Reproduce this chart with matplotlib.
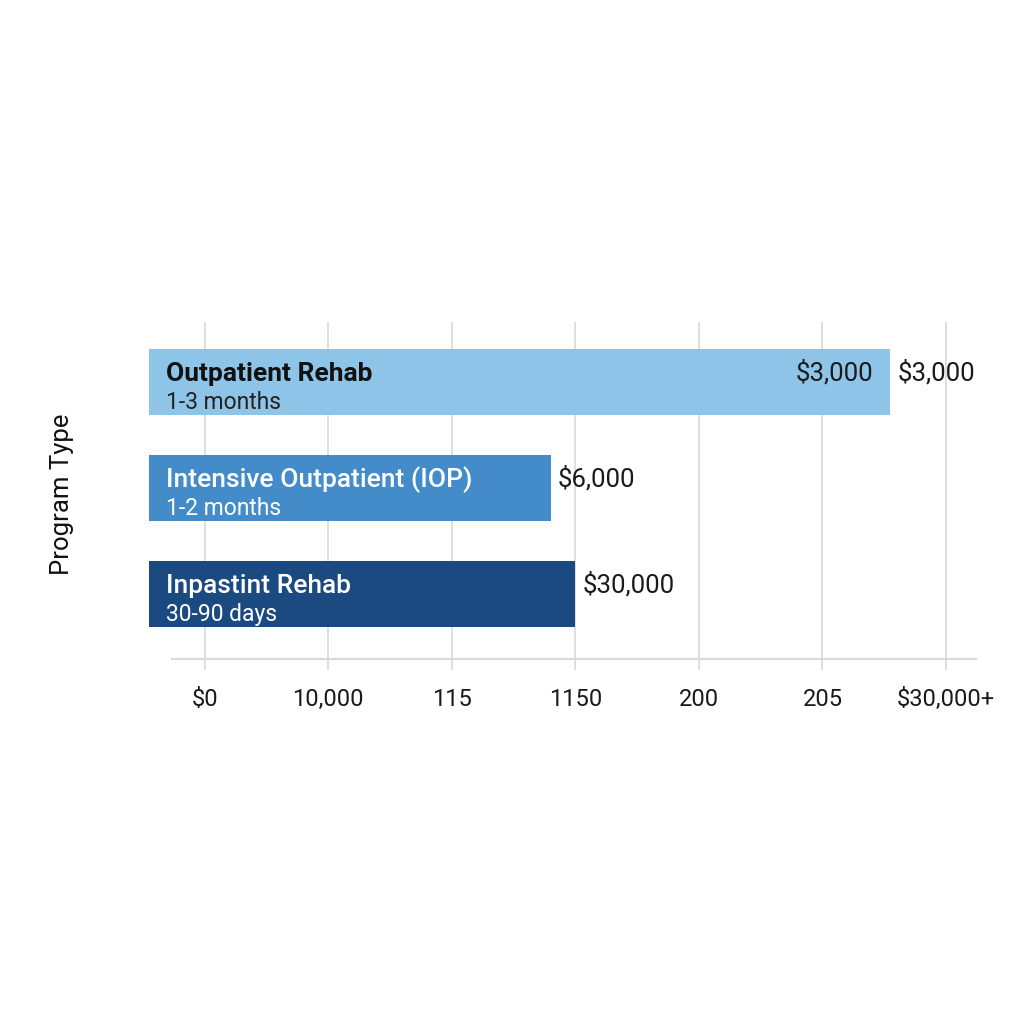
import matplotlib
matplotlib.use('Agg')
import matplotlib.pyplot as plt

plt.rcParams['font.family'] = ['Roboto', 'DejaVu Sans']

programs = ['Outpatient Rehab', 'Intensive Outpatient (IOP)', 'Inpastint Rehab']
durations = ['1-3 months', '1-2 months', '30-90 days']
bar_start = -2250
bar_end = [27750, 14000, 15000]
value_labels = ['$3,000', '$6,000', '$30,000']
tick_values = [0, 5000, 10000, 15000, 20000, 25000, 30000]
tick_labels = ['$0', '10,000', '115', '1150', '200', '205', '$30,000+']

colors = ['#8ec4e7', '#438cc9', '#1a4a80']
name_colors = ['#111111', 'white', 'white']
name_weights = ['bold', 'medium', 'medium']
sub_colors = ['#222222', 'white', 'white']

fig = plt.figure(figsize=(10.24, 10.24), dpi=100)
fig.patch.set_facecolor('white')
ax = fig.add_axes([149 / 1024, 1 - 659 / 1024, (976 - 149) / 1024, 337 / 1024])

px = 5000 / 123.5
ax.set_xlim(bar_start - 5, 30000 + (976 - 946) * px)
ax.set_ylim(2.613, -0.566)

y = list(range(len(programs)))
widths = [e - bar_start for e in bar_end]
ax.barh(y, widths, left=bar_start, height=0.623, color=colors, zorder=3)

for i in y:
    ax.annotate(programs[i], (bar_start, i), xytext=(12, 6), textcoords='offset points',
                ha='left', va='center', fontsize=19, color=name_colors[i],
                fontweight=name_weights[i], zorder=4)
    ax.annotate(durations[i], (bar_start, i), xytext=(12, -14.5), textcoords='offset points',
                ha='left', va='center', fontsize=16.5, color=sub_colors[i], zorder=4)
    ax.annotate(value_labels[i], (bar_end[i], i), xytext=(5, 6.5), textcoords='offset points',
                ha='left', va='center', fontsize=18.5, color='#1a1a1a', zorder=4)

# the outpatient bar also carries its value inside the bar
ax.annotate(value_labels[0], (bar_end[0], 0), xytext=(-12, 6.5), textcoords='offset points',
            ha='right', va='center', fontsize=18.5, color='#1a1a1a', zorder=4)

ax.set_xticks(tick_values)
ax.set_xticklabels(tick_labels, fontsize=17, color='#1a1a1a')
ax.set_yticks([])
ax.grid(axis='x', color='#d9d9d9', linewidth=1.2, zorder=0)
ax.tick_params(axis='x', length=8, width=1.2, color='#d9d9d9', pad=13)

for s in ['top', 'right', 'left']:
    ax.spines[s].set_visible(False)
ax.spines['bottom'].set_color('#d9d9d9')
ax.spines['bottom'].set_linewidth(1.5)
ax.spines['bottom'].set_bounds(-(205 - 172) * px, 30000 + (976 - 946) * px)

fig.text(62 / 1024, 1 - 494 / 1024, 'Program Type', rotation=90, ha='center', va='center',
         fontsize=18.5, color='#111111')

plt.savefig('out.png', dpi=100, facecolor='white')
plt.close()
